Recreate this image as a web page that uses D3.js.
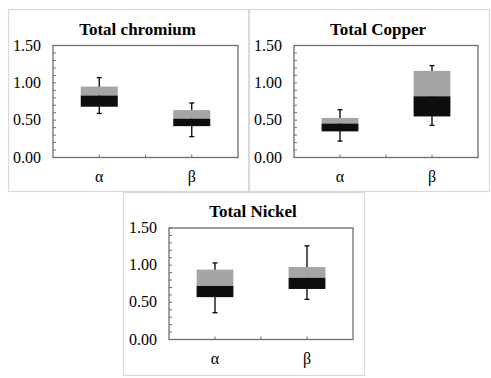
<!DOCTYPE html>
<html>
<head>
<meta charset="utf-8">
<script src="https://cdn.jsdelivr.net/npm/d3@7"></script>
<style>
  body { margin: 0; background: #fff; }
  svg { display: block; }
</style>
</head>
<body>
<script>
// box plot stats, one row per panel, [α, β]
const titles = ['Total chromium', 'Total Copper', 'Total Nickel']
const groups = ['α', 'β']
const lowWhisker  = [[0.59, 0.28], [0.22, 0.43], [0.36, 0.54]]
const q1Vals      = [[0.68, 0.42], [0.35, 0.55], [0.57, 0.68]]
const medianVals  = [[0.83, 0.52], [0.455, 0.82], [0.72, 0.83]]
const q3Vals      = [[0.95, 0.635], [0.53, 1.16], [0.94, 0.975]]
const highWhisker = [[1.07, 0.73], [0.64, 1.23], [1.03, 1.26]]
const yTicks = [0, 0.5, 1, 1.5]

const W = 491, H = 378
const serif = '"Liberation Serif", "Times New Roman", serif'

// frame box and plot box for each panel
const panels = [
  { box: [8, 9, 248, 191],   plot: [53, 45.5, 238, 157.5] },
  { box: [249, 9, 489, 191], plot: [294, 45.5, 478, 157.5] },
  { box: [123, 192, 364, 375], plot: [169, 228, 353, 339.5] },
]

const svg = d3.select('body').append('svg')
  .attr('width', W).attr('height', H)

panels.forEach((p, i) => {
  const [bx0, by0, bx1, by1] = p.box
  const [px0, py0, px1, py1] = p.plot

  svg.append('rect')
    .attr('x', bx0 + 0.5).attr('y', by0 + 0.5)
    .attr('width', bx1 - bx0).attr('height', by1 - by0)
    .attr('fill', '#fff').attr('stroke', '#d9d9d9').attr('stroke-width', 1.2)

  const g = svg.append('g')

  const x = d3.scaleBand().domain(groups).range([px0, px1]).padding(0)
  const y = d3.scaleLinear().domain([0, 1.5]).range([py1, py0])
  const bw = x.bandwidth() * 0.4

  // title
  g.append('text')
    .attr('x', (px0 + px1) / 2 - 8).attr('y', py0 - 11)
    .attr('text-anchor', 'middle')
    .style('font-family', serif).style('font-weight', 'bold').style('font-size', '17px')
    .attr('fill', '#000')
    .text(titles[i])

  // minor + major ticks on y, inward
  const minor = d3.range(0, 1.5001, 0.1)
  g.selectAll('.ytick').data(minor).join('line')
    .attr('x1', px0).attr('x2', px0 + 3)
    .attr('y1', d => y(d)).attr('y2', d => y(d))
    .attr('stroke', '#6e6e6e').attr('stroke-width', 1)

  g.selectAll('.ylab').data(yTicks).join('text')
    .attr('x', px0 - 12).attr('y', d => y(d) + 5)
    .attr('text-anchor', 'end')
    .style('font-family', serif).style('font-size', '16px')
    .attr('fill', '#000')
    .text(d3.format('.2f'))

  // x ticks at band centres and between bands, inward
  const xt = [x('α') + x.bandwidth() / 2, x('β'), x('β') + x.bandwidth() / 2]
  g.selectAll('.xtick').data(xt).join('line')
    .attr('x1', d => d).attr('x2', d => d)
    .attr('y1', py1).attr('y2', py1 - 3)
    .attr('stroke', '#6e6e6e').attr('stroke-width', 1)

  g.selectAll('.xlab').data(groups).join('text')
    .attr('x', d => x(d) + x.bandwidth() / 2).attr('y', py1 + 24)
    .attr('text-anchor', 'middle')
    .style('font-family', serif).style('font-size', '16px')
    .attr('fill', '#000')
    .text(d => d)

  // boxes
  groups.forEach((gName, j) => {
    const cx = x(gName) + x.bandwidth() / 2
    // whiskers
    g.append('line')
      .attr('x1', cx).attr('x2', cx)
      .attr('y1', y(highWhisker[i][j])).attr('y2', y(lowWhisker[i][j]))
      .attr('stroke', '#000').attr('stroke-width', 1.3)
    ;[highWhisker[i][j], lowWhisker[i][j]].forEach(v => {
      g.append('line')
        .attr('x1', cx - 2.5).attr('x2', cx + 2.5)
        .attr('y1', y(v)).attr('y2', y(v))
        .attr('stroke', '#000').attr('stroke-width', 1.3)
    })
    // upper part (median to q3)
    g.append('rect')
      .attr('x', cx - bw / 2).attr('width', bw)
      .attr('y', y(q3Vals[i][j])).attr('height', y(medianVals[i][j]) - y(q3Vals[i][j]))
      .attr('fill', '#a5a5a5')
    // lower part (q1 to median)
    g.append('rect')
      .attr('x', cx - bw / 2).attr('width', bw)
      .attr('y', y(medianVals[i][j])).attr('height', y(q1Vals[i][j]) - y(medianVals[i][j]))
      .attr('fill', '#0d0d0d')
  })

  // plot frame
  g.append('rect')
    .attr('x', px0).attr('y', py0)
    .attr('width', px1 - px0).attr('height', py1 - py0)
    .attr('fill', 'none').attr('stroke', '#6e6e6e').attr('stroke-width', 1.3)
})
</script>
</body>
</html>
